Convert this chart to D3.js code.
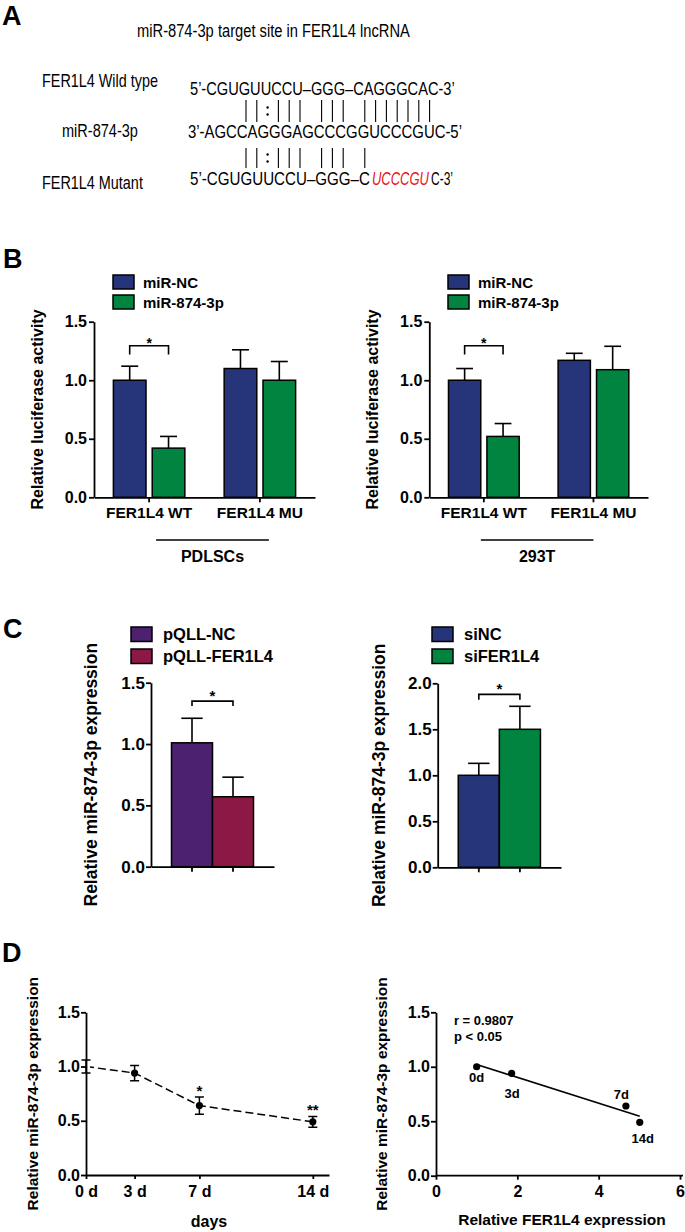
<!DOCTYPE html>
<html><head><meta charset="utf-8">
<script src="https://cdn.jsdelivr.net/npm/d3@7"></script>
<style>body{margin:0;background:#fff}</style>
</head><body>
<svg id="c" width="685" height="1232" xmlns="http://www.w3.org/2000/svg"></svg>
<script>
// ---------------- DATA ----------------
// Panel A
const aTitle = "miR-874-3p target site in FER1L4 lncRNA";
const aRowLabels = ["FER1L4 Wild type", "miR-874-3p", "FER1L4 Mutant"];
const aSeqWT = "5’-CGUGUUCCU–GGG–CAGGGCAC-3’";
const aSeqMiR = "3’-AGCCAGGGAGCCCGGUCCCGUC-5’";
const aSeqMutParts = ["5’-CGUGUUCCU–GGG–C", "UCCCGU", "C-3’"];
const aPair1 = "||:||| ||| |||||||";
const aPair2 = "||:||| ||| |";

// Panel B
const bGroups = ["FER1L4 WT", "FER1L4 MU"];
const bSeries = ["miR-NC", "miR-874-3p"];
const bLeftNC = [1.00, 1.10], bLeftNCErr = [0.12, 0.16];
const bLeft874 = [0.42, 1.00], bLeft874Err = [0.10, 0.16];
const bRightNC = [1.00, 1.17], bRightNCErr = [0.10, 0.06];
const bRight874 = [0.52, 1.09], bRight874Err = [0.11, 0.20];
const bCellLines = ["PDLSCs", "293T"];
const bYTicks = [0, 0.5, 1.0, 1.5];

// Panel C
const cLeftCats = ["pQLL-NC", "pQLL-FER1L4"];
const cLeftMean = [1.01, 0.57], cLeftErr = [0.20, 0.16];
const cRightCats = ["siNC", "siFER1L4"];
const cRightMean = [1.00, 1.50], cRightErr = [0.13, 0.25];
const cLeftYTicks = [0, 0.5, 1.0, 1.5];
const cRightYTicks = [0, 0.5, 1.0, 1.5, 2.0];

// Panel D
const dDays = [0, 3, 7, 14];
const dDayLabels = ["0 d", "3 d", "7 d", "14 d"];
const dMean = [1.00, 0.94, 0.64, 0.49];
const dSem = [0.06, 0.07, 0.08, 0.05];
const dSig = ["", "", "*", "**"];
const dFer = [1.00, 1.86, 4.67, 5.01];
const dMir = [1.00, 0.94, 0.64, 0.49];
const dPtLabels = ["0d", "3d", "7d", "14d"];
const dStats = ["r = 0.9807", "p < 0.05"];
const dYTicks = [0, 0.5, 1.0, 1.5];
const dXTicks = [0, 2, 4, 6];

// colors
const BLUE = "#26347a", GREEN = "#00843f", PURPLE = "#4b2170", CRIMSON = "#8c1846";
const FONT = "'Liberation Sans', Arial, Helvetica, sans-serif";

// ---------------- DRAW ----------------
const svg = d3.select("#c");
svg.append("rect").attr("width", 685).attr("height", 1232).attr("fill", "#fff");

function txt(g, x, y, s, fs, opts = {}) {
  const t = g.append("text").attr("x", x).attr("y", y).text(s)
    .attr("font-family", FONT).attr("font-size", fs)
    .attr("font-weight", opts.bold ? "bold" : "normal")
    .attr("text-anchor", opts.anchor || "start")
    .attr("fill", opts.fill || "#000");
  if (opts.italic) t.attr("font-style", "italic");
  return t;
}
// text horizontally condensed to a given width via transform
function fitText(g, x, y, s, fs, len, opts = {}) {
  const t = txt(g, 0, 0, s, fs, opts);
  const w = t.node().getComputedTextLength();
  t.attr("transform", `translate(${x},${y}) scale(${len / w},1)`);
  return t;
}
function panelLetter(s, x, y) { txt(svg, x, y, s, 27, { bold: true }); }
function styleAxis(sel, fs) {
  sel.attr("font-family", FONT).attr("font-size", fs).attr("font-weight", "bold");
  sel.selectAll("path,line").attr("stroke", "#000").attr("stroke-width", 1.8);
  sel.selectAll("text").attr("fill", "#000");
}
function yLabel(xBase, yc, s, fs) {
  svg.append("text").attr("transform", `translate(${xBase},${yc}) rotate(-90)`)
    .attr("text-anchor", "middle").attr("font-family", FONT).attr("font-size", fs)
    .attr("font-weight", "bold").text(s);
}

// ===== Panel A =====
panelLetter("A", 2, 25);
const gA = svg.append("g");
const AFS = 17.5;
fitText(gA, 137, 37, aTitle, AFS, 273);
fitText(gA, 42, 87, aRowLabels[0], AFS, 116);
fitText(gA, 62, 137, aRowLabels[1], AFS, 76);
fitText(gA, 42, 189, aRowLabels[2], AFS, 101);
fitText(gA, 190, 95, aSeqWT, AFS, 265);
fitText(gA, 188, 138, aSeqMiR, AFS, 274);
fitText(gA, 190, 185, aSeqMutParts[0], AFS, 180);
fitText(gA, 372, 185, aSeqMutParts[1], AFS, 57, { fill: "#e8141b", italic: true });
fitText(gA, 431, 185, aSeqMutParts[2], AFS, 22);

function drawPairs(str, y1, y2) {
  const step = 10.8, x0 = 246;
  str.split("").forEach((ch, i) => {
    const x = x0 + i * step;
    if (ch === "|") gA.append("line").attr("x1", x).attr("x2", x).attr("y1", y1).attr("y2", y2)
      .attr("stroke", "#000").attr("stroke-width", 1.1);
    else if (ch === ":") {
      const ym = (y1 + y2) / 2;
      [ym - 3.5, ym + 3.5].forEach(yy => gA.append("circle").attr("cx", x).attr("cy", yy).attr("r", 1.2).attr("fill", "#000"));
    }
  });
}
drawPairs(aPair1, 100, 122);
drawPairs(aPair2, 148, 168);

// ===== Panel B =====
panelLetter("B", 3, 268);

function drawBarsB(cfg) {
  const g = svg.append("g");
  const y = d3.scaleLinear().domain([0, 1.5]).range([497.3, 321.7]);
  const x = d3.scaleBand().domain(bGroups).range(cfg.xr).paddingInner(0.355).paddingOuter(0.175);
  const xi = d3.scaleBand().domain(bSeries).range([0, x.bandwidth()]).paddingInner(0.16);
  const series = [
    { name: bSeries[0], color: BLUE, v: cfg.nc, e: cfg.ncErr },
    { name: bSeries[1], color: GREEN, v: cfg.mi, e: cfg.miErr }
  ];
  series.forEach(s => {
    bGroups.forEach((grp, i) => {
      const cx = x(grp) + xi(s.name) + xi.bandwidth() / 2;
      const cw = xi.bandwidth() * 0.26;
      g.append("line").attr("x1", cx).attr("x2", cx).attr("y1", y(s.v[i])).attr("y2", y(s.v[i] + s.e[i]))
        .attr("stroke", "#000").attr("stroke-width", 1.6);
      g.append("line").attr("x1", cx - cw).attr("x2", cx + cw).attr("y1", y(s.v[i] + s.e[i])).attr("y2", y(s.v[i] + s.e[i]))
        .attr("stroke", "#000").attr("stroke-width", 1.6);
    });
  });
  series.forEach(s => {
    g.selectAll(null).data(bGroups).enter().append("rect")
      .attr("x", d => x(d) + xi(s.name)).attr("width", xi.bandwidth())
      .attr("y", (d, i) => y(s.v[i])).attr("height", (d, i) => y(0) - y(s.v[i]))
      .attr("fill", s.color).attr("stroke", "#000").attr("stroke-width", 1.5);
  });
  const ay = g.append("g").attr("transform", `translate(${cfg.xr[0]},0)`)
    .call(d3.axisLeft(y).tickValues(bYTicks).tickFormat(d3.format(".1f")).tickSize(5).tickPadding(2).tickSizeOuter(0));
  styleAxis(ay, 16);
  const ax = g.append("g").attr("transform", `translate(0,${y(0)})`)
    .call(d3.axisBottom(x).tickSize(5).tickPadding(5).tickSizeOuter(0));
  styleAxis(ax, 15.5);
  const c0 = x(bGroups[0]) + xi(bSeries[0]) + xi.bandwidth() / 2;
  const c1 = x(bGroups[0]) + xi(bSeries[1]) + xi.bandwidth() / 2;
  g.append("path").attr("d", `M${c0},${y(1.22)}V${y(1.295)}H${c1}V${y(1.22)}`)
    .attr("fill", "none").attr("stroke", "#000").attr("stroke-width", 1.6);
  txt(g, (c0 + c1) / 2, y(1.295) + 2, "*", 14, { bold: true, anchor: "middle" });
  series.forEach((s, i) => {
    g.append("rect").attr("x", cfg.legX).attr("y", 275 + i * 20).attr("width", 21).attr("height", 14)
      .attr("fill", s.color).attr("stroke", "#000").attr("stroke-width", 1.5);
    txt(g, cfg.legX + 30, 287.5 + i * 20, s.name, 15, { bold: true });
  });
  const m0 = x(bGroups[0]) + x.bandwidth() / 2, m1 = x(bGroups[1]) + x.bandwidth() / 2;
  g.append("line").attr("x1", m0 + cfg.lineOff[0]).attr("x2", m1 + cfg.lineOff[1]).attr("y1", 540).attr("y2", 540)
    .attr("stroke", "#000").attr("stroke-width", 1.6);
  txt(g, (m0 + cfg.lineOff[0] + m1 + cfg.lineOff[1]) / 2, 562, cfg.cell, 16, { bold: true, anchor: "middle" });
  yLabel(cfg.ylabX, (y(0) + y(1.5)) / 2, "Relative luciferase activity", 16);
}
drawBarsB({ xr: [94, 315], nc: bLeftNC, ncErr: bLeftNCErr, mi: bLeft874, miErr: bLeft874Err,
  legX: 113, lineOff: [7, 9], cell: bCellLines[0], ylabX: 42.7 });
drawBarsB({ xr: [429.3, 648], nc: bRightNC, ncErr: bRightNCErr, mi: bRight874, miErr: bRight874Err,
  legX: 448, lineOff: [-3, 0], cell: bCellLines[1], ylabX: 378.3 });

// ===== Panel C =====
panelLetter("C", 3, 638);
function drawBarsC(cfg) {
  const g = svg.append("g");
  const y = d3.scaleLinear().domain([0, cfg.ymax]).range(cfg.yr);
  const x = d3.scaleBand().domain(cfg.cats).range(cfg.xr).paddingInner(0).paddingOuter(0.5);
  cfg.cats.forEach((c, i) => {
    const cx = x(c) + x.bandwidth() / 2, cw = x.bandwidth() * 0.26;
    const top = y(cfg.mean[i] + cfg.err[i]);
    g.append("line").attr("x1", cx).attr("x2", cx).attr("y1", y(cfg.mean[i])).attr("y2", top).attr("stroke", "#000").attr("stroke-width", 1.6);
    g.append("line").attr("x1", cx - cw).attr("x2", cx + cw).attr("y1", top).attr("y2", top).attr("stroke", "#000").attr("stroke-width", 1.6);
  });
  g.selectAll(null).data(cfg.cats).enter().append("rect")
    .attr("x", d => x(d)).attr("width", x.bandwidth())
    .attr("y", (d, i) => y(cfg.mean[i])).attr("height", (d, i) => y(0) - y(cfg.mean[i]))
    .attr("fill", (d, i) => cfg.colors[i]).attr("stroke", "#000").attr("stroke-width", 1.5);
  const ay = g.append("g").attr("transform", `translate(${cfg.xr[0]},0)`)
    .call(d3.axisLeft(y).tickValues(cfg.ticks).tickFormat(d3.format(".1f")).tickSize(5).tickPadding(1).tickSizeOuter(0));
  styleAxis(ay, 17);
  const ax = g.append("g").attr("transform", `translate(0,${y(0)})`)
    .call(d3.axisBottom(x).tickSize(5).tickFormat("").tickSizeOuter(0));
  styleAxis(ax, 16);
  const c0 = x(cfg.cats[0]) + x.bandwidth() / 2, c1 = x(cfg.cats[1]) + x.bandwidth() / 2;
  g.append("path").attr("d", `M${c0},${y(cfg.brLeg)}V${y(cfg.br)}H${c1}V${y(cfg.brLeg)}`)
    .attr("fill", "none").attr("stroke", "#000").attr("stroke-width", 1.6);
  txt(g, (c0 + c1) / 2, y(cfg.br), "*", 15, { bold: true, anchor: "middle" });
  cfg.cats.forEach((c, i) => {
    g.append("rect").attr("x", cfg.legX).attr("y", 627 + i * 22).attr("width", 21).attr("height", 14.5)
      .attr("fill", cfg.colors[i]).attr("stroke", "#000").attr("stroke-width", 1.5);
    txt(g, cfg.legX + 32, 639.5 + i * 22.5, c, 16.5, { bold: true });
  });
  yLabel(cfg.ylabX, (cfg.yr[0] + cfg.yr[1]) / 2, "Relative miR-874-3p expression", 17.5);
}
drawBarsC({ cats: cLeftCats, mean: cLeftMean, err: cLeftErr, colors: [PURPLE, CRIMSON], ymax: 1.5,
  yr: [866.7, 682.7], xr: [151, 274], ticks: cLeftYTicks, br: 1.35, brLeg: 1.31, legX: 131, ylabX: 96.7 });
drawBarsC({ cats: cRightCats, mean: cRightMean, err: cRightErr, colors: [BLUE, GREEN], ymax: 2.0,
  yr: [867.3, 683.3], xr: [437.7, 561], ticks: cRightYTicks, br: 1.88, brLeg: 1.82, legX: 432, ylabX: 384.5 });

// ===== Panel D =====
panelLetter("D", 2, 962);
{ // left: time course
  const g = svg.append("g");
  const x = d3.scaleLinear().domain([0, 15]).range([86, 329]);
  const y = d3.scaleLinear().domain([0, 1.5]).range([1175, 1012.3]);
  svg.append("clipPath").attr("id", "dclip").append("rect").attr("x", 90).attr("y", 990).attr("width", 250).attr("height", 190);
  const pts = dDays.map((d, i) => [d, dMean[i]]);
  g.append("path").attr("d", d3.line().x(d => x(d[0])).y(d => y(d[1]))(pts))
    .attr("fill", "none").attr("stroke", "#000").attr("stroke-width", 1.5).attr("stroke-dasharray", "8,4")
    .attr("clip-path", "url(#dclip)");
  dDays.forEach((d, i) => {
    const cx = x(d), t = y(dMean[i] + dSem[i]), b = y(dMean[i] - dSem[i]);
    g.append("path").attr("d", `M${cx - 4.5},${t}H${cx + 4.5}M${cx},${t}V${b}M${cx - 4.5},${b}H${cx + 4.5}`)
      .attr("stroke", "#000").attr("stroke-width", 1.5).attr("fill", "none");
    if (dSig[i]) txt(g, cx, t - 1, dSig[i], 15, { bold: true, anchor: "middle" });
  });
  g.selectAll(null).data(pts).enter().append("circle")
    .attr("cx", d => x(d[0])).attr("cy", d => y(d[1])).attr("r", 3.6).attr("fill", "#000")
    .attr("clip-path", "url(#dclip)");
  const ay = g.append("g").attr("transform", `translate(${x(0)},0)`)
    .call(d3.axisLeft(y).tickValues(dYTicks).tickFormat(d3.format(".1f")).tickSize(5).tickPadding(1).tickSizeOuter(0));
  styleAxis(ay, 16);
  const ax = g.append("g").attr("transform", `translate(0,${y(0)})`)
    .call(d3.axisBottom(x).tickValues(dDays).tickFormat((d, i) => dDayLabels[i]).tickSize(4).tickPadding(7).tickSizeOuter(0));
  styleAxis(ax, 16);
  txt(g, 209, 1227, "days", 16, { bold: true, anchor: "middle" });
  yLabel(38.3, (y(0) + y(1.5)) / 2, "Relative miR-874-3p expression", 15.5);
}
{ // right: correlation
  const g = svg.append("g");
  const x = d3.scaleLinear().domain([0, 6]).range([436, 680]);
  const y = d3.scaleLinear().domain([0, 1.5]).range([1175.7, 1012.3]);
  const mx = d3.mean(dFer), my = d3.mean(dMir);
  const slope = d3.sum(dFer, (v, i) => (v - mx) * (dMir[i] - my)) / d3.sum(dFer, v => (v - mx) ** 2);
  const icpt = my - slope * mx;
  const x0 = d3.min(dFer), x1 = d3.max(dFer);
  g.append("line").attr("x1", x(x0)).attr("x2", x(x1)).attr("y1", y(icpt + slope * x0)).attr("y2", y(icpt + slope * x1))
    .attr("stroke", "#000").attr("stroke-width", 1.6);
  g.selectAll(null).data(dFer).enter().append("circle")
    .attr("cx", d => x(d)).attr("cy", (d, i) => y(dMir[i])).attr("r", 3.6).attr("fill", "#000");
  const off = [[0, 15.5], [0.5, 24.5], [-4.5, -7], [3, 20.5]];
  dPtLabels.forEach((l, i) => txt(g, x(dFer[i]) + off[i][0], y(dMir[i]) + off[i][1], l, 13, { bold: true, anchor: "middle" }));
  txt(g, x(0.44), y(1.38), dStats[0], 13, { bold: true });
  txt(g, x(0.44), y(1.38) + 16, dStats[1], 13, { bold: true });
  const ay = g.append("g").attr("transform", `translate(${x(0)},0)`)
    .call(d3.axisLeft(y).tickValues(dYTicks).tickFormat(d3.format(".1f")).tickSize(5).tickPadding(1).tickSizeOuter(0));
  styleAxis(ay, 16);
  const ax = g.append("g").attr("transform", `translate(0,${y(0)})`)
    .call(d3.axisBottom(x).tickValues(dXTicks).tickFormat(d3.format("d")).tickSize(4).tickPadding(6).tickSizeOuter(0));
  styleAxis(ax, 16);
  ax.select(".domain").attr("d", `M${x(0)},0H683`);
  txt(g, 562, 1225, "Relative FER1L4 expression", 15.5, { bold: true, anchor: "middle" });
  yLabel(386.7, (y(0) + y(1.5)) / 2, "Relative miR-874-3p expression", 15.5);
}
</script>
</body></html>
